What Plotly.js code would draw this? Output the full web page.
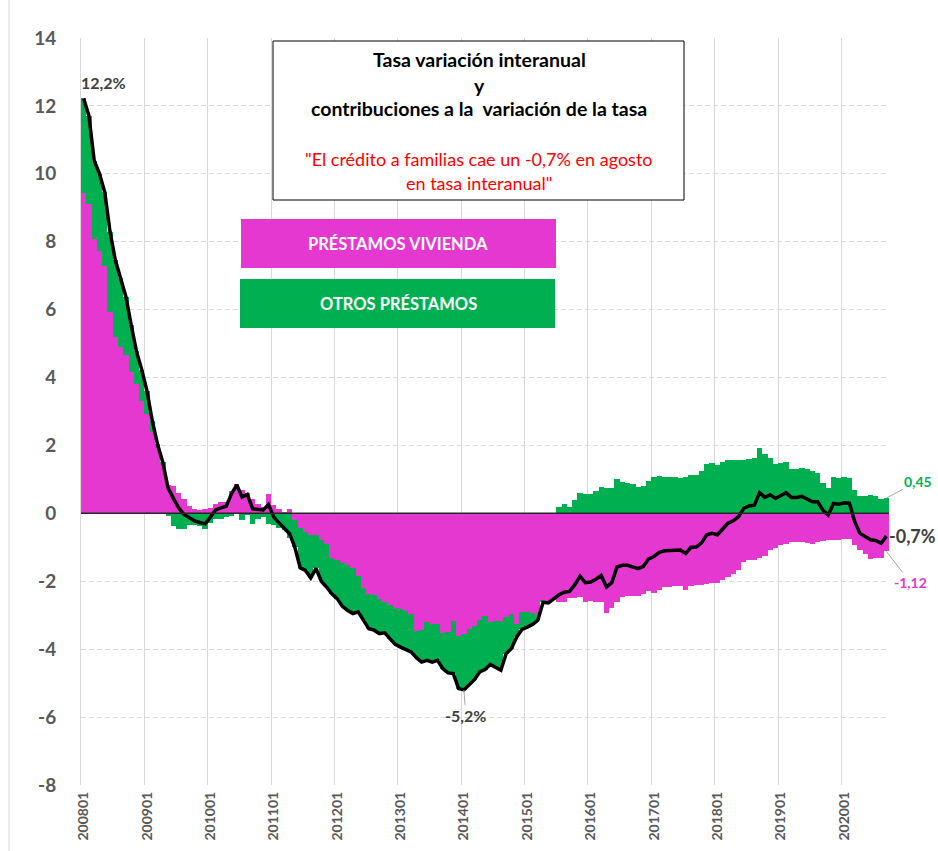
<!DOCTYPE html>
<html><head><meta charset="utf-8">
<script src="https://cdn.plot.ly/plotly-3.0.1.min.js"></script>
<style>html,body{margin:0;padding:0;background:#fff}#chart{width:938px;height:851px}</style>
</head><body><div id="chart"></div>
<script>
// ---------- DATA ----------
const years = [2008,2009,2010,2011,2012,2013,2014,2015,2016,2017,2018,2019,2020];
const lastMonthOfLastYear = 9;
const months = [];
years.forEach(y => {
  const n = (y === years[years.length-1]) ? lastMonthOfLastYear : 12;
  for (let m = 1; m <= n; m++) months.push(String(y) + (m < 10 ? '0' : '') + m);
});
const tickLabels = ["200801","200901","201001","201101","201201","201301","201401","201501","201601","201701","201801","201901","202001"];
const yTickVals = [-8,-6,-4,-2,0,2,4,6,8,10,12,14];
const yTickText = ["-8","-6","-4","-2","0","2","4","6","8","10","12","14"];

// Contribución préstamos vivienda (p.p.)
const vivienda = [
  9.43, 9.10, 8.08, 7.72, 7.30, 5.94, 5.20, 4.91, 4.67, 4.15, 3.81, 3.32,
  2.94, 2.39, 1.94, 1.45, 0.83, 0.80, 0.61, 0.42, 0.21, 0.12, 0.09, 0.14,
  0.17, 0.28, 0.33, 0.33, 0.66, 0.86, 0.68, 0.60, 0.43, 0.28, 0.20, 0.56,
  0.24, 0.14, 0.05, 0.14, -0.20, -0.43, -0.55, -0.63, -0.63, -0.78, -0.89, -1.31,
  -1.38, -1.46, -1.53, -1.60, -1.83, -2.19, -2.37, -2.41, -2.51, -2.61, -2.71, -2.79,
  -2.81, -2.89, -2.95, -3.46, -3.44, -3.20, -3.25, -3.27, -3.52, -3.49, -3.17, -3.61,
  -3.54, -3.40, -3.32, -3.13, -3.03, -3.20, -3.17, -3.17, -3.05, -2.95, -3.27, -2.90,
  -2.90, -2.93, -3.00, -2.56, -2.60, -2.54, -2.60, -2.60, -2.50, -2.48, -2.46, -2.60,
  -2.58, -2.60, -2.62, -2.93, -2.80, -2.60, -2.46, -2.43, -2.44, -2.42, -2.38, -2.29,
  -2.35, -2.25, -2.17, -2.17, -2.15, -2.13, -2.25, -2.13, -2.12, -2.12, -2.08, -2.06,
  -2.05, -1.97, -1.87, -1.78, -1.68, -1.43, -1.38, -1.38, -1.31, -1.27, -1.09, -1.01,
  -0.94, -0.91, -0.84, -0.84, -0.84, -0.87, -0.91, -0.84, -0.81, -0.79, -0.78, -0.78,
  -0.76, -0.75, -0.94, -1.09, -1.19, -1.33, -1.30, -1.30, -1.12
];
// Contribución otros préstamos (p.p.)
const otros = [
  2.79, 2.61, 2.31, 2.28, 2.16, 2.35, 2.26, 2.01, 1.71, 1.40, 0.96, 0.91,
  0.66, 0.33, 0.09, 0.05, -0.09, -0.36, -0.45, -0.45, -0.35, -0.34, -0.36, -0.45,
  -0.28, -0.18, -0.17, -0.12, -0.08, -0.02, -0.20, -0.04, -0.30, -0.17, -0.10, -0.30,
  -0.35, -0.42, -0.50, -0.74, -0.80, -1.17, -1.13, -1.27, -0.99, -1.22, -1.28, -1.06,
  -1.13, -1.28, -1.33, -1.35, -1.07, -0.96, -1.03, -1.03, -1.03, -0.91, -0.98, -1.07,
  -1.13, -1.12, -1.13, -0.79, -0.94, -1.13, -1.13, -1.06, -1.05, -1.21, -1.55, -1.55,
  -1.66, -1.65, -1.58, -1.54, -1.57, -1.25, -1.38, -1.45, -1.08, -1.03, -0.37, -0.52,
  -0.45, -0.34, -0.15, -0.06, -0.04, 0.02, 0.20, 0.28, 0.20, 0.38, 0.61, 0.56,
  0.56, 0.66, 0.79, 0.76, 0.76, 1.02, 0.93, 0.90, 0.86, 0.79, 0.82, 0.95,
  1.08, 1.10, 1.07, 1.08, 1.08, 1.05, 1.07, 1.13, 1.13, 1.25, 1.45, 1.47,
  1.42, 1.50, 1.58, 1.56, 1.58, 1.58, 1.60, 1.62, 1.92, 1.74, 1.64, 1.45,
  1.48, 1.52, 1.31, 1.31, 1.34, 1.30, 1.25, 1.18, 0.90, 0.74, 1.07, 1.05,
  1.07, 1.05, 0.70, 0.50, 0.50, 0.55, 0.50, 0.42, 0.45
];
// Tasa de variación interanual (%)
const tasa = [
  12.22, 11.71, 10.39, 10.00, 9.46, 8.29, 7.46, 6.92, 6.38, 5.55, 4.77, 4.23,
  3.60, 2.72, 2.03, 1.50, 0.74, 0.44, 0.16, -0.03, -0.14, -0.22, -0.27, -0.31,
  -0.11, 0.10, 0.16, 0.21, 0.58, 0.84, 0.48, 0.56, 0.13, 0.11, 0.10, 0.26,
  -0.11, -0.28, -0.45, -0.60, -1.00, -1.60, -1.68, -1.90, -1.62, -2.00, -2.17, -2.37,
  -2.51, -2.74, -2.86, -2.95, -2.90, -3.15, -3.40, -3.44, -3.54, -3.52, -3.69, -3.86,
  -3.94, -4.01, -4.08, -4.25, -4.38, -4.33, -4.38, -4.33, -4.57, -4.70, -4.72, -5.16,
  -5.20, -5.05, -4.90, -4.67, -4.60, -4.45, -4.55, -4.62, -4.13, -3.98, -3.64, -3.42,
  -3.35, -3.27, -3.15, -2.62, -2.64, -2.52, -2.40, -2.32, -2.30, -2.10, -1.85, -2.04,
  -2.02, -1.94, -1.83, -2.17, -2.04, -1.58, -1.53, -1.53, -1.58, -1.63, -1.56, -1.34,
  -1.27, -1.15, -1.10, -1.09, -1.07, -1.08, -1.18, -1.00, -0.99, -0.87, -0.63, -0.59,
  -0.63, -0.47, -0.29, -0.22, -0.10, 0.15, 0.22, 0.24, 0.61, 0.47, 0.55, 0.44,
  0.54, 0.61, 0.47, 0.47, 0.50, 0.43, 0.34, 0.34, 0.09, -0.05, 0.29, 0.27,
  0.31, 0.30, -0.24, -0.59, -0.69, -0.78, -0.80, -0.88, -0.67
];

// ---------- STYLE ----------
const MAGENTA = '#E538D0', GREEN = '#00B050', GRID = '#D9D9D9', GREY = '#595959', DARK = '#404040';
const FONT = 'Lato, "Open Sans", sans-serif';
const L = 81, R = 889, T = 38, B = 785;               // plot area in px
const px = x => (x - L) / (R - L);
const py = y => (B - y) / (B - T);

const xIdx = months.map((m, i) => i);
const last = months.length - 1;
const minIdx = tasa.indexOf(Math.min(...tasa));

const traces = [
  {type:'bar', x:xIdx, y:vivienda, name:'PRÉSTAMOS VIVIENDA', marker:{color:MAGENTA, line:{width:0}}, customdata:months, hovertemplate:'%{customdata}: %{y}<extra></extra>'},
  {type:'bar', x:xIdx, y:otros, name:'OTROS PRÉSTAMOS', marker:{color:GREEN, line:{width:0}}, customdata:months, hovertemplate:'%{customdata}: %{y}<extra></extra>'},
  {type:'scatter', mode:'lines', x:xIdx, y:tasa, name:'Tasa', line:{color:'#000000', width:3.5}, customdata:months, hovertemplate:'%{customdata}: %{y}<extra></extra>'}
];

function txt(xp, yp, text, font, extra) {
  return Object.assign({xref:'paper', yref:'paper', x:px(xp), y:py(yp), xanchor:'center', yanchor:'middle',
    showarrow:false, text:text, font:Object.assign({family:FONT}, font)}, extra || {});
}

const annotations = [
  txt(479, 59, '<b>Tasa variación interanual</b>', {size:19.5, color:'#000'}),
  txt(479, 85, '<b>y</b>', {size:19.5, color:'#000'}),
  txt(479, 109, '<b>contribuciones a la\u00A0 variación de la tasa</b>', {size:19.5, color:'#000'}),
  txt(479, 159, '"El crédito a familias cae un -0,7% en agosto', {size:18, color:'#FF0000'}),
  txt(479, 183, 'en tasa interanual"', {size:18, color:'#FF0000'}),
  txt(398, 244, '<b>PRÉSTAMOS VIVIENDA</b>', {size:16.5, color:'#FFFFFF'}),
  txt(398, 304, '<b>OTROS PRÉSTAMOS</b>', {size:16.5, color:'#FFFFFF'}),
  // data labels
  {x:0, y:tasa[0], xref:'x', yref:'y', text:'<b>12,2%</b>', showarrow:false, xanchor:'left', yanchor:'middle', xshift:-5, yshift:16, font:{family:FONT, size:16, color:DARK}},
  {x:minIdx, y:tasa[minIdx], xref:'x', yref:'y', text:'<b>-5,2%</b>', showarrow:true, arrowhead:0, arrowwidth:1, arrowcolor:'#A6A6A6', ax:2, ay:26, font:{family:FONT, size:16, color:DARK}},
  {x:last, y:tasa[last], xref:'x', yref:'y', text:'<b>-0,7%</b>', showarrow:false, xanchor:'left', yanchor:'middle', xshift:1, font:{family:FONT, size:18, color:DARK}},
  {x:last, y:otros[last], xref:'x', yref:'y', text:'<b>0,45</b>', showarrow:true, arrowhead:0, arrowwidth:1, arrowcolor:'#A6A6A6', ax:32, ay:-17, font:{family:FONT, size:14, color:GREEN}},
  {x:last, y:vivienda[last], xref:'x', yref:'y', text:'<b>-1,12</b>', showarrow:true, arrowhead:0, arrowwidth:1, arrowcolor:'#A6A6A6', ax:24, ay:31, font:{family:FONT, size:14, color:MAGENTA}}
];

const shapes = [
  {type:'line', xref:'paper', yref:'y', x0:0, x1:1, y0:0, y1:0, line:{color:'#262626', width:1.5}, layer:'above'},
  {type:'rect', xref:'paper', yref:'paper', x0:px(273), x1:px(684), y0:py(41), y1:py(200), line:{color:'#000', width:1}, fillcolor:'#FFFFFF', layer:'above'},
  {type:'rect', xref:'paper', yref:'paper', x0:px(241), x1:px(556), y0:py(219), y1:py(268), line:{width:0}, fillcolor:MAGENTA, layer:'above'},
  {type:'rect', xref:'paper', yref:'paper', x0:px(240), x1:px(555), y0:py(279), y1:py(328), line:{width:0}, fillcolor:GREEN, layer:'above'},
  {type:'line', xref:'paper', yref:'paper', x0:px(9), x1:px(9), y0:py(851), y1:py(0), line:{color:GRID, width:1}}
];

const layout = {
  width:938, height:851,
  margin:{l:L, r:938-R, t:T, b:851-B, pad:0},
  paper_bgcolor:'#FFFFFF', plot_bgcolor:'#FFFFFF',
  barmode:'relative', bargap:0, showlegend:false,
  font:{family:FONT, color:GREY},
  xaxis:{
    type:'linear', range:[-0.5, months.length-0.5],
    tickmode:'array', tickvals:tickLabels.map(t => months.indexOf(t)), ticktext:tickLabels,
    tickangle:-90, ticks:'', showgrid:false, zeroline:false, showline:false,
    tickfont:{family:FONT, size:14, color:GREY, weight:'bold'}, ticklabelstandoff:3,
    minor:{tick0:-0.5, dtick:12, showgrid:true, gridcolor:GRID, gridwidth:1, ticks:''}
  },
  yaxis:{
    range:[-8, 14], tickmode:'array', tickvals:yTickVals, ticktext:yTickText, ticks:'',
    showgrid:true, gridcolor:GRID, gridwidth:1, griddash:'5px,3px',
    zeroline:false, showline:true, linecolor:GRID, linewidth:1,
    tickfont:{family:FONT, size:19, color:GREY, weight:'bold'}, ticklabelstandoff:20
  },
  shapes:shapes,
  annotations:annotations
};

Plotly.newPlot('chart', traces, layout, {displayModeBar:false, staticPlot:true});
</script>
</body></html>
